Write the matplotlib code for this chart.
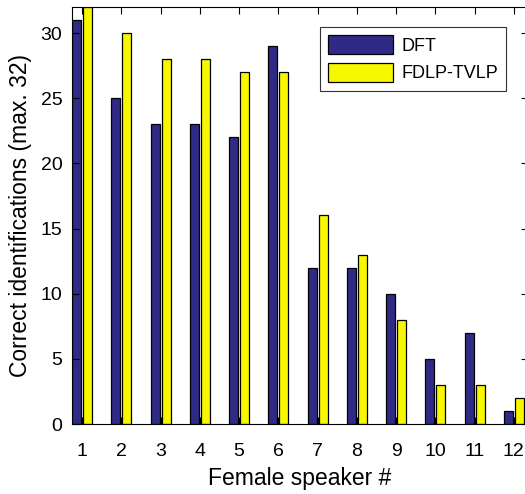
import matplotlib
matplotlib.use("Agg")
import matplotlib.pyplot as plt
import numpy as np

plt.rcParams['font.family'] = ['Liberation Sans', 'DejaVu Sans']

speakers = [1, 2, 3, 4, 5, 6, 7, 8, 9, 10, 11, 12]
dft = [31, 25, 23, 23, 22, 29, 12, 12, 10, 5, 7, 1]
fdlp_tvlp = [32, 30, 28, 28, 27, 27, 16, 13, 8, 3, 3, 2]
series_names = ["DFT", "FDLP-TVLP"]
navy = "#2F2A85"
yellow = "#F7F700"

fig = plt.figure(figsize=(5.25, 4.94), dpi=100)
W, H = 525, 494
ax = fig.add_axes([72 / W, 1 - 424 / H, (528 - 72) / W, (424 - 7) / H])

x = np.array(speakers, dtype=float)
bw = 0.23
off = 0.14
ax.bar(x - off, dft, width=bw, color=navy, edgecolor="black", linewidth=0.9,
       label=series_names[0])
ax.bar(x + off, fdlp_tvlp, width=bw, color=yellow, edgecolor="black", linewidth=0.9,
       label=series_names[1])

ax.set_xlim(0.745, 12.36)
ax.set_ylim(0, 32)
ax.set_xticks(speakers)
ax.set_yticks([0, 5, 10, 15, 20, 25, 30])
ax.tick_params(direction="in", top=True, right=True, labelsize=14, length=5,
               width=0.8)
ax.tick_params(axis="x", pad=14)
ax.tick_params(axis="y", pad=7)
for s in ax.spines.values():
    s.set_linewidth(0.8)

ax.set_xlabel("Female speaker #", fontsize=16.5, labelpad=5)
ax.set_ylabel("Correct identifications (max. 32)", fontsize=16.5, labelpad=6)

leg = ax.legend(loc="upper right", bbox_to_anchor=((506 - 72) / (528 - 72), 1 - 20 / 417),
                borderaxespad=0, fontsize=13, frameon=True, fancybox=False,
                edgecolor="black", handlelength=3.6, handleheight=1.25, borderpad=0.45,
                labelspacing=0.45, handletextpad=0.45)
leg.get_frame().set_linewidth(0.8)

fig.savefig("out.png", dpi=100)
